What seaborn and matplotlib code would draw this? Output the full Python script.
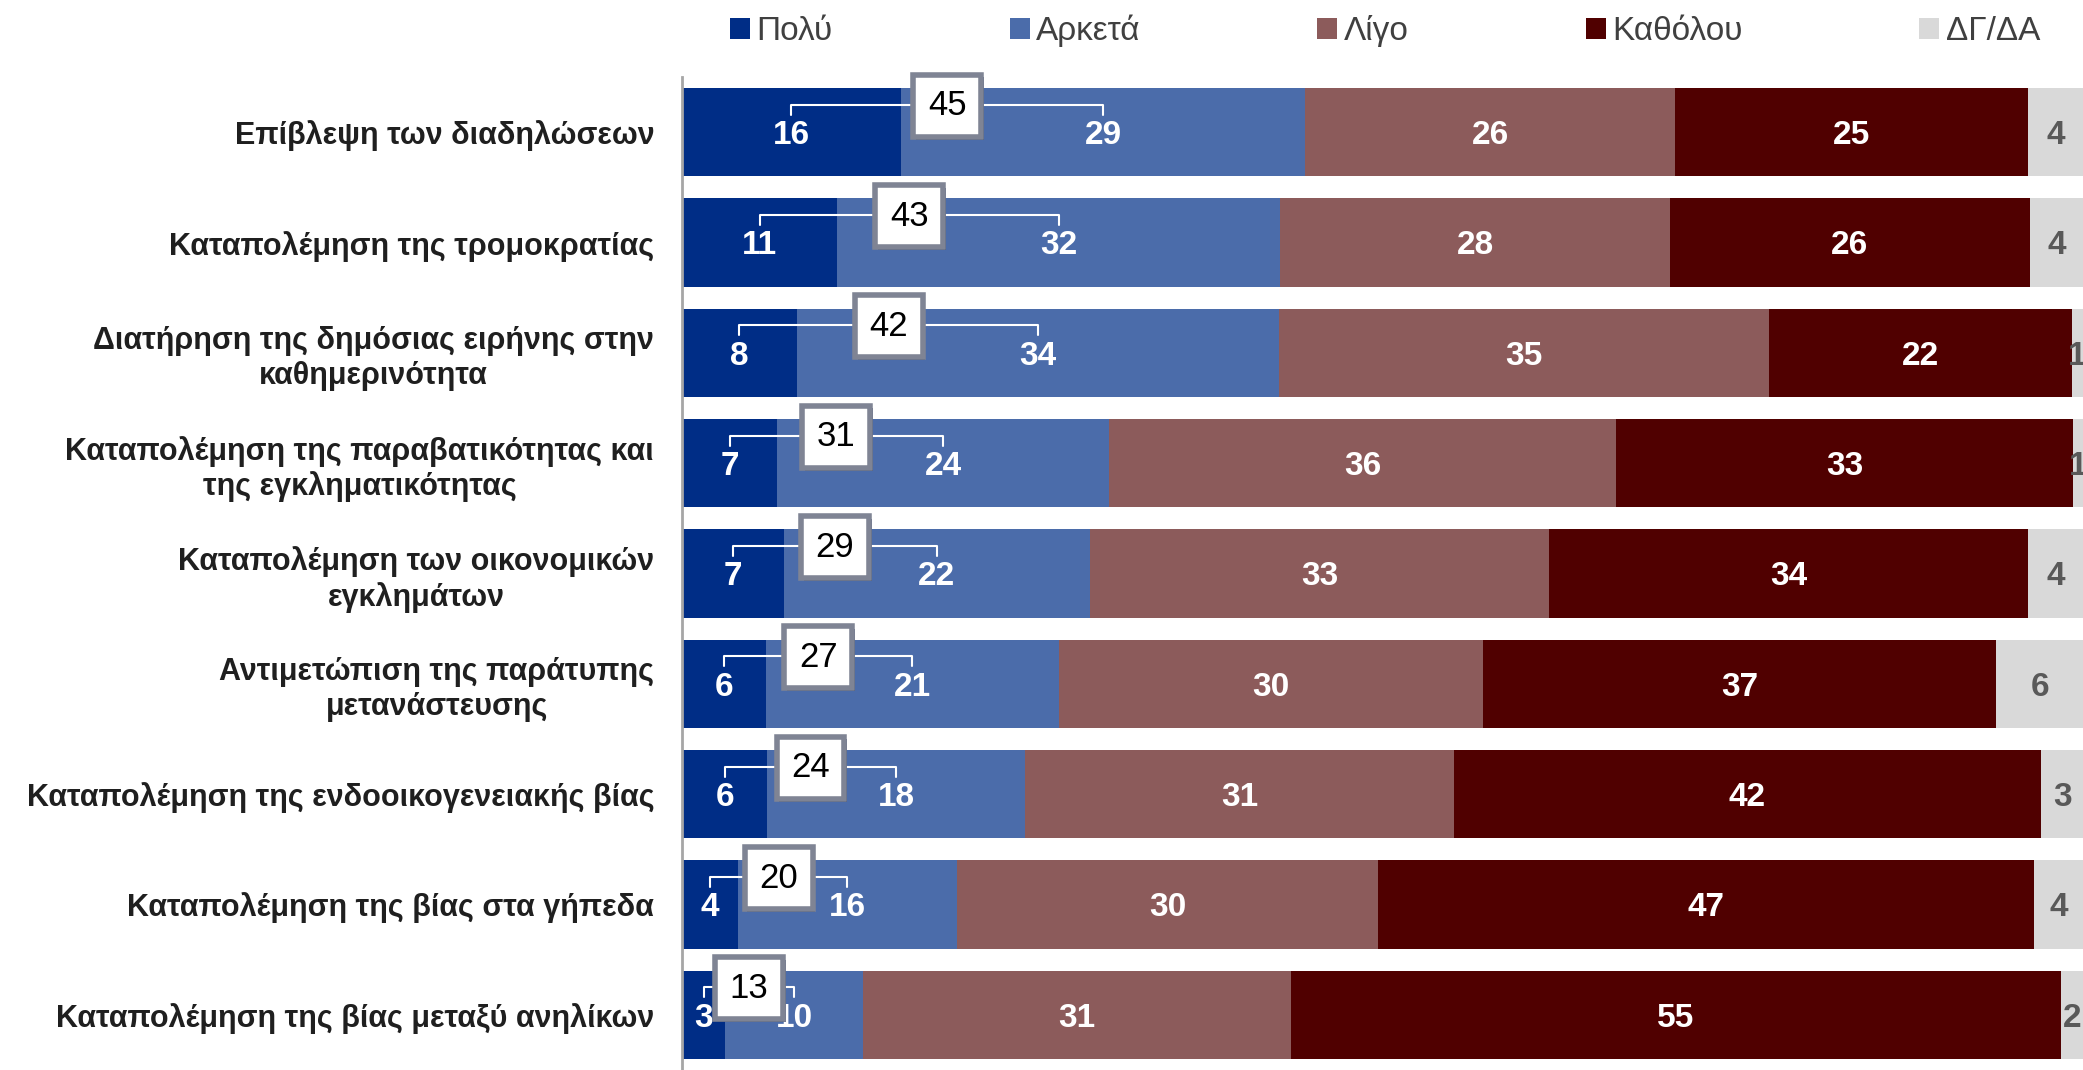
import numpy as np
import pandas as pd
import seaborn as sns
import matplotlib.pyplot as plt
import matplotlib.patheffects as pe
from matplotlib.patches import Patch

categories = [
    "Επίβλεψη των διαδηλώσεων",
    "Καταπολέμηση της τρομοκρατίας",
    "Διατήρηση της δημόσιας ειρήνης στην\nκαθημερινότητα",
    "Καταπολέμηση της παραβατικότητας και\nτης εγκληματικότητας",
    "Καταπολέμηση των οικονομικών\nεγκλημάτων",
    "Αντιμετώπιση της παράτυπης\nμετανάστευσης",
    "Καταπολέμηση της ενδοοικογενειακής βίας",
    "Καταπολέμηση της βίας στα γήπεδα",
    "Καταπολέμηση της βίας μεταξύ ανηλίκων",
]
# shares as drawn (labels show them rounded)
polu = [15.6, 11.1, 8.2, 6.8, 7.3, 6.0, 6.1, 4.0, 3.1]
arketa = [28.9, 31.6, 34.4, 23.7, 21.8, 20.9, 18.4, 15.6, 9.8]
ligo = [26.4, 27.8, 35.0, 36.2, 32.8, 30.3, 30.6, 30.1, 30.6]
katholou = [25.2, 25.7, 21.6, 32.6, 34.2, 36.6, 41.9, 46.8, 54.9]
dgda = [3.9, 3.9, 0.8, 0.7, 3.9, 6.3, 3.1, 3.6, 1.7]
totals = [45, 43, 42, 31, 29, 27, 24, 20, 13]

series_names = ["Πολύ", "Αρκετά", "Λίγο", "Καθόλου", "ΔΓ/ΔΑ"]
colors = ["#002D86", "#4B6CAA", "#8C5B5B", "#500000", "#D9D9D9"]
label_colors = ["white", "white", "white", "white", "#595959"]

sns.set_style("white")
plt.rcParams["font.family"] = ["Liberation Sans", "DejaVu Sans"]

values = np.array([polu, arketa, ligo, katholou, dgda], dtype=float)
cum = values.cumsum(axis=0)
df = pd.DataFrame({"cat": categories})
for i, name in enumerate(series_names):
    df[name] = cum[i]

fig = plt.figure(figsize=(20.83, 10.70), dpi=100)
ax = fig.add_axes([0.3274, 0.0, 1 - 0.3274, 0.928])

# stacked bars: draw cumulative totals from the widest down
for i in range(len(series_names) - 1, -1, -1):
    sns.barplot(data=df, x=series_names[i], y="cat", orient="h", color=colors[i],
                saturation=1, width=0.8, ax=ax, edgecolor="none")

ax.set_xlim(0, 100)
ax.set_ylim(len(categories) - 0.5, -0.5)
ax.set_xlabel("")
ax.set_ylabel("")
ax.set_xticks([])
for s in ["top", "right", "bottom"]:
    ax.spines[s].set_visible(False)
ax.spines["left"].set_color("#A6A6A6")
ax.spines["left"].set_linewidth(2)
ax.tick_params(axis="y", length=0, pad=20)
ax.set_yticks(range(len(categories)))
ax.set_yticklabels(categories, fontsize=22, fontweight="bold", color="#1F1F1F",
                   multialignment="center")

# segment labels
for i in range(len(series_names)):
    starts = cum[i] - values[i]
    for r in range(len(categories)):
        ax.text(starts[r] + values[i][r] / 2, r + 0.03, f"{round(values[i][r])}",
                ha="center", va="center", fontsize=24, fontweight="bold",
                color=label_colors[i], clip_on=False)

# bracket + total box for Πολύ + Αρκετά
for r in range(len(categories)):
    x1 = polu[r] / 2
    x2 = polu[r] + arketa[r] / 2
    yb = r - 0.25
    ax.plot([x1, x1, x2, x2], [r - 0.16, yb, yb, r - 0.16], color="white", lw=1.5, zorder=5)
    t = ax.text((x1 + x2) / 2, r - 0.24, str(totals[r]), ha="center", va="center",
                fontsize=25, color="black", zorder=7,
                bbox=dict(boxstyle="square,pad=0.42", facecolor="white",
                          edgecolor="#7F8494", linewidth=4))
    t.get_bbox_patch().set_path_effects([
        pe.withSimplePatchShadow(offset=(2, -2), shadow_rgbFace="#1F2F55", alpha=0.7)])

handles = [Patch(facecolor=c, edgecolor="none") for c in colors]
fig.legend(handles, series_names, loc="center", bbox_to_anchor=(0.665, 0.971), ncol=5,
           frameon=False, fontsize=24, labelcolor="#404040", handlelength=0.6,
           handleheight=0.6, handletextpad=0.2, columnspacing=5.3)

fig.savefig("out.png", dpi=100)
